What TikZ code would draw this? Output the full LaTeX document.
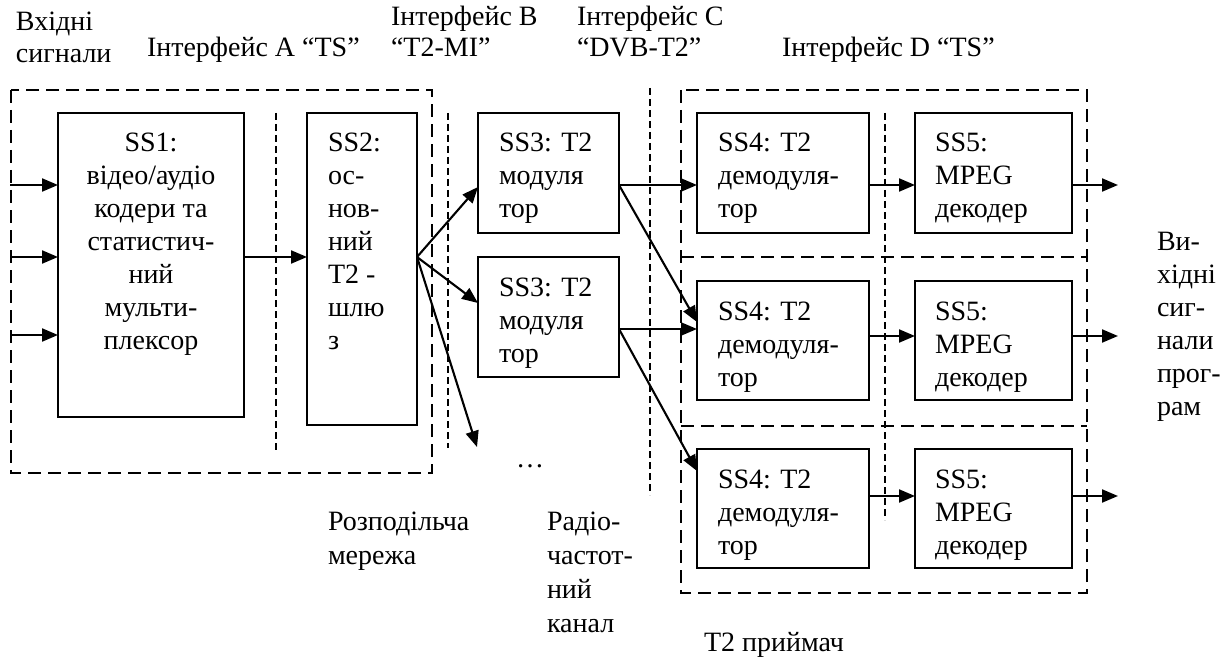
\documentclass[tikz,border=0pt]{standalone}
\usepackage{fontspec}
\setmainfont{Liberation Serif}
\usetikzlibrary{arrows.meta}
\newcommand\LinesL[2][33pt]{\vtop{\let\\\cr\baselineskip=#1\lineskiplimit=-100pt\lineskip=0pt\halign{##\hfil\cr#2\crcr}}}
\newcommand\LinesC[2][33pt]{\vtop{\let\\\cr\baselineskip=#1\lineskiplimit=-100pt\lineskip=0pt\halign{\hfil##\hfil\cr#2\crcr}}}
\begin{document}
\begin{tikzpicture}[x=1pt,y=-1pt,
  txt/.style={inner sep=0pt, outer sep=0pt, anchor=base west, font=\fontsize{28pt}{33pt}\selectfont},
  ctxt/.style={inner sep=0pt, outer sep=0pt, anchor=base, font=\fontsize{28pt}{33pt}\selectfont},
  box/.style={draw, line width=1.6pt, inner sep=0pt, outer sep=0pt},
  grp/.style={line width=1.6pt, dash pattern=on 13pt off 7pt},
  sep/.style={line width=1.2pt, dash pattern=on 7pt off 4pt},
  arr/.style={line width=2.1pt, -{Triangle[length=16pt,width=13pt]}}]
\useasboundingbox (0,0) rectangle (1228,663);
\fill[white] (0,0) rectangle (1228,663);

% groups and interface separators
\draw[grp] (11,90) rectangle (432,473);
\draw[grp] (681,90) rectangle (1087,593);
\draw[grp] (681,257) -- (1087,257);
\draw[grp] (681,426) -- (1087,426);
\draw[sep] (276,113) -- (276,450);
\draw[sep] (448,113) -- (448,448);
\draw[sep] (650,88) -- (650,495);
\draw[sep] (885,113) -- (885,520);

% boxes
\node[box, minimum width=186pt, minimum height=304pt] (ss1) at (151,265) {};
\node[box, minimum width=110pt, minimum height=312pt] (ss2) at (362,269) {};
\node[box, minimum width=141pt, minimum height=120pt] (ss3a) at (548.5,173) {};
\node[box, minimum width=141pt, minimum height=120pt] (ss3b) at (548.5,317) {};
\node[box, minimum width=172pt, minimum height=120pt] (ss4a) at (783,173) {};
\node[box, minimum width=172pt, minimum height=119pt] (ss4b) at (783,340.5) {};
\node[box, minimum width=172pt, minimum height=119pt] (ss4c) at (783,508.5) {};
\node[box, minimum width=157pt, minimum height=120pt] (ss5a) at (993.5,173) {};
\node[box, minimum width=157pt, minimum height=119pt] (ss5b) at (993.5,340.5) {};
\node[box, minimum width=157pt, minimum height=119pt] (ss5c) at (993.5,508.5) {};

% box texts
\node[ctxt] (ss1t) at (151,152) {\LinesC{SS1:\\відео/аудіо\\кодери та\\статистич-\\ний\\мульти-\\плексор}};
\node[txt] (ss2t) at (328,152) {\LinesL{SS2:\\ос-\\нов-\\ний\\T2 -\\шлю\\з}};
\node[txt] (ss3at) at (499,152) {\LinesL{SS3: T2\\модуля\\тор}};
\node[txt] (ss3bt) at (499,296) {\LinesL{SS3: T2\\модуля\\тор}};
\node[txt] (ss4at) at (718,152) {\LinesL{SS4: T2\\демодуля-\\тор}};
\node[txt] (ss4bt) at (718,320) {\LinesL{SS4: T2\\демодуля-\\тор}};
\node[txt] (ss4ct) at (718,488) {\LinesL{SS4: T2\\демодуля-\\тор}};
\node[txt] (ss5at) at (935,152) {\LinesL{SS5:\\MPEG\\декодер}};
\node[txt] (ss5bt) at (935,320) {\LinesL{SS5:\\MPEG\\декодер}};
\node[txt] (ss5ct) at (935,488) {\LinesL{SS5:\\MPEG\\декодер}};

% labels
\node[txt] (lin) at (16,31) {\LinesL[32pt]{Вхідні\\сигнали}};
\node[txt] (lA) at (147,57) {Інтерфейс А “TS”};
\node[txt] (lB) at (391,26) {\LinesL[31pt]{Інтерфейс В\\“T2-MI”}};
\node[txt] (lC) at (577,26) {\LinesL[31pt]{Інтерфейс С\\“DVB-T2”}};
\node[txt] (lD) at (782,57) {Інтерфейс D “TS”};
\node[txt] (lout) at (1157,250) {\LinesL{Ви-\\хідні\\сиг-\\нали\\прог-\\рам}};
\node[txt] (lnet) at (328,530) {\LinesL[34pt]{Розподільча\\мережа}};
\node[txt] (lrf) at (547,530) {\LinesL[34pt]{Радіо-\\частот-\\ний\\канал}};
\node[txt] (lrx) at (704,651) {T2 приймач};
\node[inner sep=0pt, font=\fontsize{28pt}{33pt}\selectfont] (dots) at (530,466) {…};

% free ends
\coordinate (in1) at (10,185);
\coordinate (in2) at (10,257);
\coordinate (in3) at (10,335);
\coordinate (fan) at (417,257);
\coordinate (more) at (477,447);
\coordinate (o1) at (1118,185);
\coordinate (o2) at (1118,336);
\coordinate (o3) at (1118,496);

% connectors
\draw[arr] (in1) -- (ss1.west |- in1);
\draw[arr] (in2) -- (ss1.west |- in2);
\draw[arr] (in3) -- (ss1.west |- in3);
\draw[arr] (ss1.east |- fan) -- (ss2.west |- fan);
\draw[arr] (fan) -- (ss3a.west |- 0,187);
\draw[arr] (fan) -- (ss3b.west |- 0,303);
\draw[arr] (fan) -- (more);
\draw[arr] (ss3a.east |- 0,185) -- (ss4a.west |- 0,185);
\draw[arr] (ss3a.east |- 0,185) -- (ss4b.west |- 0,322);
\draw[arr] (ss3b.east |- 0,329) -- (ss4b.west |- 0,329);
\draw[arr] (ss3b.east |- 0,329) -- (ss4c.west |- 0,471);
\draw[arr] (ss4a.east |- o1) -- (ss5a.west |- o1);
\draw[arr] (ss4b.east |- o2) -- (ss5b.west |- o2);
\draw[arr] (ss4c.east |- o3) -- (ss5c.west |- o3);
\draw[arr] (ss5a.east |- o1) -- (o1);
\draw[arr] (ss5b.east |- o2) -- (o2);
\draw[arr] (ss5c.east |- o3) -- (o3);
\end{tikzpicture}
\end{document}
